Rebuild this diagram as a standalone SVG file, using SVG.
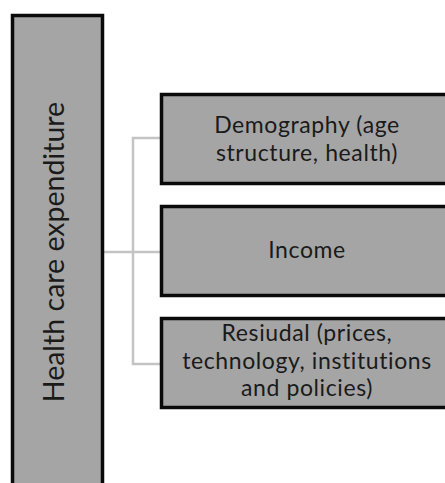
<svg xmlns="http://www.w3.org/2000/svg" width="445" height="483" viewBox="0 0 445 483">
<style>
.box{fill:#a5a5a5;stroke:#0a0a0a;stroke-width:3.5}
.lbl{font-family:Lato,"Open Sans",sans-serif;font-size:23px;letter-spacing:0.6px;fill:#1a1a1a;text-anchor:middle}
.conn{fill:none;stroke:#c4c4c4;stroke-width:2.5}
</style>
<rect width="445" height="483" fill="#ffffff"/>
<g id="connectors">
<path class="conn" d="M104 252 H160 M160 138 H133 V364 H160"/>
</g>
<g id="n-hce">
<rect class="box" x="12.5" y="15.5" width="90" height="480"/>
<text class="lbl" transform="translate(64 252) rotate(-90)" style="font-size:28.5px;letter-spacing:0">Health care expenditure</text>
</g>
<g id="n-demography">
<rect class="box" x="161.5" y="94.5" width="300" height="89"/>
<text class="lbl" x="307" y="133">Demography (age</text>
<text class="lbl" x="307" y="160.5">structure, health)</text>
</g>
<g id="n-income">
<rect class="box" x="161.5" y="206.5" width="300" height="89"/>
<text class="lbl" x="307" y="258">Income</text>
</g>
<g id="n-residual">
<rect class="box" x="161.5" y="318.5" width="300" height="89"/>
<text class="lbl" x="307" y="341">Resiudal (prices,</text>
<text class="lbl" x="307" y="368.5">technology, institutions</text>
<text class="lbl" x="307" y="396">and policies)</text>
</g>
</svg>
